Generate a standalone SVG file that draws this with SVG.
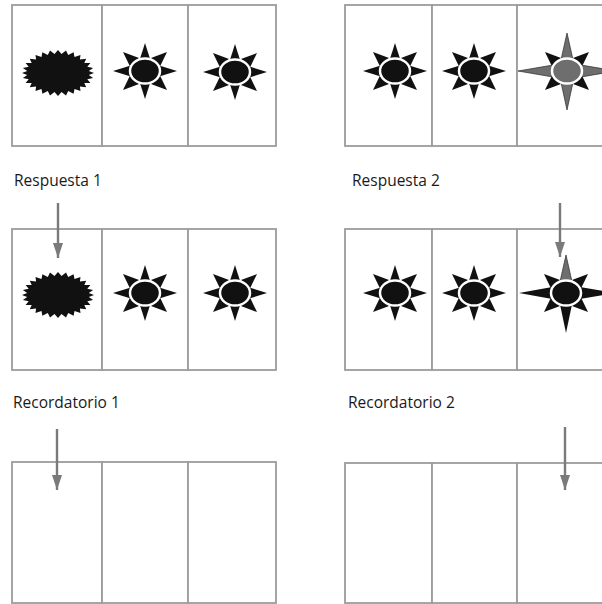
<svg xmlns="http://www.w3.org/2000/svg" xmlns:xlink="http://www.w3.org/1999/xlink" width="602" height="604" viewBox="0 0 602 604">
  <style>
    .cell { fill: #ffffff; stroke: #9c9c9c; stroke-width: 1.8; }
    .label { font-family: "Open Sans", "Liberation Sans", sans-serif; font-size: 15.5px; fill: #1a1a1a; }
    .arrow { stroke: #7a7a7a; stroke-width: 2.4; fill: none; marker-end: url(#head); }
    .ray { fill: #111111; }
    .ray-grey { fill: #6e6e6e; stroke: #2a2a2a; stroke-width: 0.7; }
    .core { fill: #111111; stroke: #ffffff; stroke-width: 2.5; }
    .core-grey { fill: #6e6e6e; stroke: #ffffff; stroke-width: 2.5; }
  </style>
  <defs>
    <marker id="head" viewBox="0 0 15 10" refX="15" refY="5" markerWidth="15" markerHeight="10" markerUnits="userSpaceOnUse" orient="auto">
      <path d="M0,0 L15,5 L0,10 Z" fill="#7a7a7a"/>
    </marker>
    <!-- short diagonal rays shared by every sun -->
    <g id="diag">
      <polygon class="ray" points="14.5,-3.5 6,-13 22,-19"/>
      <polygon class="ray" points="14.5,3.5 6,13 22,19"/>
      <polygon class="ray" points="-14.5,3.5 -6,13 -22,19"/>
      <polygon class="ray" points="-14.5,-3.5 -6,-13 -22,-19"/>
    </g>
    <!-- eight-ray sun -->
    <g id="sun">
      <use xlink:href="#diag"/>
      <polygon class="ray" points="-6,-9 6,-9 0,-28"/>
      <polygon class="ray" points="-6,9 6,9 0,28"/>
      <polygon class="ray" points="11,-6.5 11,6.5 32,0"/>
      <polygon class="ray" points="-11,-6.5 -11,6.5 -32,0"/>
      <ellipse class="core" cx="0" cy="0" rx="15" ry="12.5"/>
    </g>
    <!-- serrated blot -->
    <polygon id="blot" fill="#111111" points="36,0 30.8,2.1 35.1,5.1 29.3,6.3 32.4,10 26.3,10.1 28.2,14.3 21.9,13.4 22.5,18 16.5,16.1 15.6,20.7 10.2,17.9 8,22.4 3.5,18.9 0,23 -3.5,18.9 -8,22.4 -10.2,17.9 -15.6,20.7 -16.5,16.1 -22.5,18 -21.9,13.4 -28.2,14.3 -26.3,10.1 -32.4,10 -29.3,6.3 -35.1,5.1 -30.8,2.1 -36,0 -30.8,-2.1 -35.1,-5.1 -29.3,-6.3 -32.4,-10 -26.3,-10.1 -28.2,-14.3 -21.9,-13.4 -22.5,-18 -16.5,-16.1 -15.6,-20.7 -10.2,-17.9 -8,-22.4 -3.5,-18.9 0,-23 3.5,-18.9 8,-22.4 10.2,-17.9 15.6,-20.7 16.5,-16.1 22.5,-18 21.9,-13.4 28.2,-14.3 26.3,-10.1 32.4,-10 29.3,-6.3 35.1,-5.1 30.8,-2.1"/>
  </defs>

  <rect width="602" height="604" fill="#ffffff"/>

  <!-- left column -->
  <g id="respuesta1">
    <rect class="cell" x="12" y="5" width="90" height="141"/>
    <rect class="cell" x="102" y="5" width="86" height="141"/>
    <rect class="cell" x="188" y="5" width="88" height="141"/>
    <use xlink:href="#blot" x="58" y="73"/>
    <use xlink:href="#sun" x="145" y="71"/>
    <use xlink:href="#sun" x="235" y="72"/>
  </g>
  <text class="label" x="14" y="186">Respuesta 1</text>

  <g id="recordatorio1">
    <rect class="cell" x="12" y="229" width="90" height="141"/>
    <rect class="cell" x="102" y="229" width="86" height="141"/>
    <rect class="cell" x="188" y="229" width="88" height="141"/>
    <use xlink:href="#blot" x="58" y="295"/>
    <use xlink:href="#sun" x="145" y="293"/>
    <use xlink:href="#sun" x="235" y="293"/>
  </g>
  <text class="label" x="13" y="408">Recordatorio 1</text>

  <g id="blank1">
    <rect class="cell" x="12" y="462" width="90" height="141"/>
    <rect class="cell" x="102" y="462" width="86" height="141"/>
    <rect class="cell" x="188" y="462" width="88" height="141"/>
  </g>

  <!-- right column -->
  <g id="respuesta2">
    <rect class="cell" x="345" y="5" width="87" height="141"/>
    <rect class="cell" x="432" y="5" width="85" height="141"/>
    <rect class="cell" x="517" y="5" width="95" height="141"/>
    <use xlink:href="#sun" x="395" y="71"/>
    <use xlink:href="#sun" x="474" y="71"/>
    <g transform="translate(567 71)">
      <use xlink:href="#diag"/>
      <polygon class="ray-grey" points="-6.5,-9 6.5,-9 0,-38"/>
      <polygon class="ray-grey" points="-6.5,9 6.5,9 0,39"/>
      <polygon class="ray-grey" points="-11,-6.5 -11,6.5 -49,0"/>
      <polygon class="ray-grey" points="11,-6.5 11,6.5 49,0"/>
      <ellipse class="core-grey" cx="0" cy="0" rx="15" ry="12.5"/>
    </g>
  </g>
  <text class="label" x="352" y="186">Respuesta 2</text>

  <g id="recordatorio2">
    <rect class="cell" x="345" y="229" width="87" height="141"/>
    <rect class="cell" x="432" y="229" width="85" height="141"/>
    <rect class="cell" x="517" y="229" width="95" height="141"/>
    <use xlink:href="#sun" x="395" y="293"/>
    <use xlink:href="#sun" x="474" y="293"/>
    <g transform="translate(566 293)">
      <use xlink:href="#diag"/>
      <polygon class="ray-grey" points="-6.5,-9 6.5,-9 0,-38"/>
      <polygon class="ray" points="-6.5,9 6.5,9 0,40"/>
      <polygon class="ray" points="-11,-6.5 -11,6.5 -47,0"/>
      <polygon class="ray" points="11,-6.5 11,6.5 49,0"/>
      <ellipse class="core" cx="0" cy="0" rx="15" ry="12.5"/>
    </g>
  </g>
  <text class="label" x="348" y="408">Recordatorio 2</text>

  <g id="blank2">
    <rect class="cell" x="345" y="463" width="87" height="140"/>
    <rect class="cell" x="432" y="463" width="85" height="140"/>
    <rect class="cell" x="517" y="463" width="95" height="140"/>
  </g>

  <!-- pointers -->
  <g id="connectors">
    <line class="arrow" x1="58" y1="203" x2="58" y2="258"/>
    <line class="arrow" x1="560" y1="203" x2="560" y2="257"/>
    <line class="arrow" x1="57" y1="429" x2="57" y2="490"/>
    <line class="arrow" x1="565" y1="427" x2="565" y2="490"/>
  </g>
</svg>
